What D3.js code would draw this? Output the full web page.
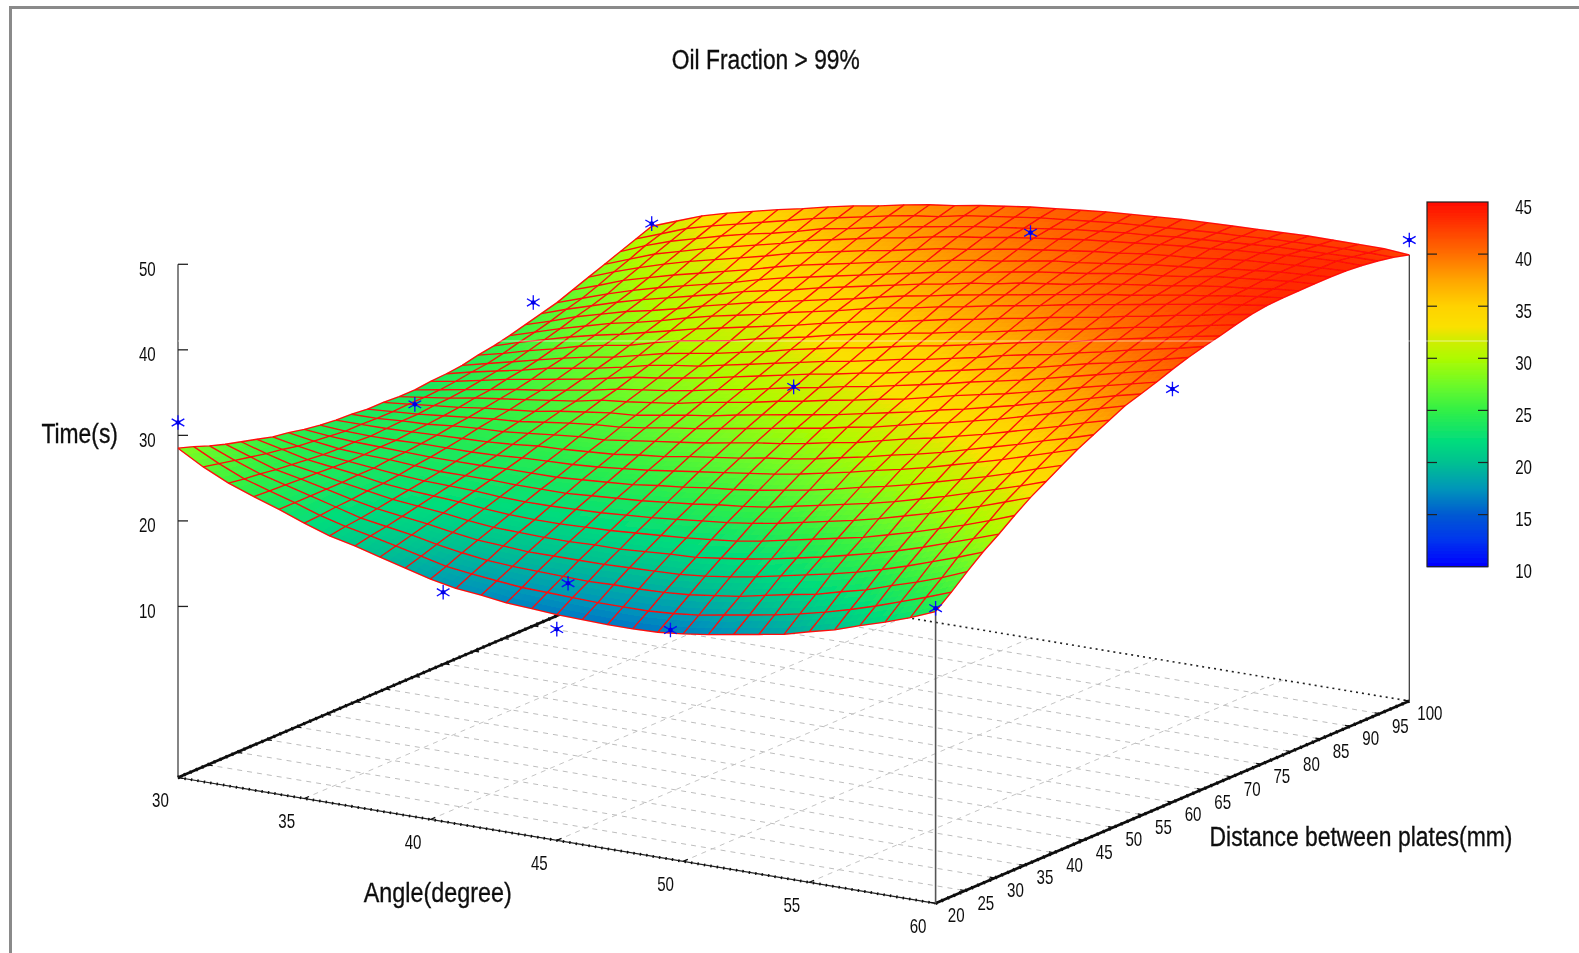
<!DOCTYPE html>
<html>
<head>
<meta charset="utf-8">
<title>Oil Fraction > 99%</title>
<script src="https://cdn.jsdelivr.net/npm/d3@7"></script>
<style>
    html, body { margin: 0; padding: 0; background: #fff; overflow: hidden; }
    text { font-family: "Liberation Sans", Arial, sans-serif; fill: #111; }
</style>
</head>
<body>
<script>
var angleTicks = [30, 35, 40, 45, 50, 55, 60];
var distTicks = [20, 25, 30, 35, 40, 45, 50, 55, 60, 65, 70, 75, 80, 85, 90, 95, 100];
var timeTicks = [10, 20, 30, 40, 50];
var barTicks = [10, 15, 20, 25, 30, 35, 40, 45];

// colorbar stops
var barValues = [10, 12.5, 15, 17.5, 20, 22, 25, 27.5, 30, 32, 33, 35, 37.5, 40, 42.5, 45];
var barColors = ["#0000ff", "#0034ee", "#005ad2", "#0096b9", "#00c191", "#00dc7d", "#32f046", "#6efa28",
    "#aefa00", "#d7eb00", "#fae100", "#ffd200", "#ffa500", "#ff6e00", "#ff3c00", "#ff0a00"];

// measured points (stars)
var pointAngle = [30, 30, 30, 30, 40.5, 45, 45, 49.5, 60, 60, 60, 45, 45];
var pointDist = [20, 100, 80, 60, 20, 21.9, 20, 20, 20, 60, 100, 100, 60];
var pointTime = [31.5, 31.1, 27.8, 21.8, 16.8, 19.5, 14.7, 16.8, 24.5, 38.3, 43.9, 37.4, 31.2];

// surface, 31 x 31: one row per distance (20 to 100), one column per angle (30 to 60)
var timeGrid = [
    [28.5, 26.8, 25.4, 24.3, 23.3, 22.2, 21.2, 20.5, 19.7, 18.9, 18.1, 17.5, 17.2, 16.8, 16.6, 16.4, 16.3, 16.2, 16.2, 16.3, 16.6, 17.0, 17.5, 18.0, 18.5, 19.3, 20.0, 21.0, 21.9, 22.9, 24.1],
    [27.9, 26.4, 25.1, 24.2, 23.3, 22.3, 21.5, 20.9, 20.2, 19.5, 18.8, 18.4, 18.1, 17.8, 17.7, 17.6, 17.5, 17.5, 17.5, 17.7, 18.0, 18.5, 19.0, 19.5, 20.1, 20.8, 21.6, 22.5, 23.5, 24.5, 25.6],
    [27.2, 26.0, 24.9, 24.1, 23.3, 22.5, 21.7, 21.2, 20.7, 20.1, 19.6, 19.2, 19.0, 18.9, 18.8, 18.7, 18.8, 18.8, 18.9, 19.1, 19.5, 19.9, 20.5, 21.1, 21.6, 22.4, 23.1, 24.1, 25.0, 26.0, 27.2],
    [26.6, 25.6, 24.6, 24.0, 23.3, 22.6, 22.0, 21.6, 21.2, 20.7, 20.3, 20.1, 19.9, 19.9, 19.9, 19.9, 20.0, 20.1, 20.2, 20.5, 20.9, 21.4, 22.0, 22.6, 23.2, 23.9, 24.7, 25.6, 26.6, 27.6, 28.7],
    [26.1, 25.2, 24.4, 23.9, 23.3, 22.8, 22.3, 22.0, 21.7, 21.3, 21.0, 20.9, 20.8, 20.8, 20.9, 20.9, 21.1, 21.3, 21.4, 21.8, 22.2, 22.7, 23.3, 23.9, 24.6, 25.3, 26.1, 27.0, 28.0, 29.0, 30.0],
    [25.6, 24.9, 24.2, 23.8, 23.4, 22.9, 22.6, 22.4, 22.2, 21.9, 21.7, 21.6, 21.6, 21.7, 21.8, 22.0, 22.2, 22.4, 22.7, 23.0, 23.5, 24.1, 24.7, 25.3, 25.9, 26.7, 27.5, 28.4, 29.3, 30.3, 31.4],
    [25.1, 24.5, 24.0, 23.7, 23.4, 23.1, 22.9, 22.8, 22.7, 22.5, 22.4, 22.4, 22.5, 22.6, 22.8, 23.0, 23.3, 23.6, 23.9, 24.3, 24.8, 25.4, 26.0, 26.6, 27.3, 28.1, 28.9, 29.8, 30.7, 31.7, 32.7],
    [24.8, 24.3, 23.9, 23.7, 23.6, 23.4, 23.2, 23.2, 23.2, 23.1, 23.1, 23.1, 23.3, 23.5, 23.7, 24.0, 24.3, 24.7, 25.0, 25.4, 26.0, 26.6, 27.2, 27.8, 28.5, 29.3, 30.1, 31.0, 31.9, 32.8, 33.8],
    [24.4, 24.1, 23.9, 23.8, 23.7, 23.6, 23.6, 23.6, 23.7, 23.7, 23.7, 23.9, 24.1, 24.3, 24.7, 25.0, 25.4, 25.7, 26.1, 26.6, 27.1, 27.7, 28.4, 29.0, 29.7, 30.5, 31.3, 32.1, 33.0, 34.0, 34.9],
    [24.1, 23.9, 23.8, 23.8, 23.9, 23.9, 23.9, 24.0, 24.2, 24.3, 24.4, 24.6, 24.9, 25.2, 25.6, 26.0, 26.4, 26.8, 27.2, 27.7, 28.3, 28.9, 29.6, 30.2, 30.9, 31.7, 32.5, 33.3, 34.2, 35.1, 36.0],
    [23.9, 23.9, 23.9, 24.0, 24.1, 24.2, 24.3, 24.5, 24.8, 24.9, 25.1, 25.3, 25.7, 26.0, 26.5, 26.9, 27.3, 27.8, 28.2, 28.7, 29.3, 29.9, 30.6, 31.2, 31.9, 32.7, 33.5, 34.3, 35.2, 36.0, 36.9],
    [23.8, 23.8, 24.0, 24.1, 24.4, 24.6, 24.7, 25.0, 25.3, 25.6, 25.7, 26.1, 26.5, 26.9, 27.3, 27.8, 28.3, 28.7, 29.2, 29.8, 30.3, 31.0, 31.7, 32.3, 33.0, 33.7, 34.5, 35.3, 36.1, 37.0, 37.8],
    [23.6, 23.8, 24.0, 24.3, 24.6, 24.9, 25.1, 25.5, 25.9, 26.2, 26.4, 26.8, 27.3, 27.7, 28.2, 28.7, 29.2, 29.7, 30.2, 30.8, 31.3, 32.0, 32.7, 33.3, 34.0, 34.7, 35.5, 36.3, 37.1, 37.9, 38.7],
    [23.6, 23.9, 24.2, 24.5, 24.9, 25.2, 25.5, 26.0, 26.4, 26.8, 27.0, 27.5, 28.0, 28.4, 29.0, 29.5, 30.0, 30.5, 31.0, 31.6, 32.2, 32.8, 33.5, 34.1, 34.8, 35.5, 36.3, 37.0, 37.8, 38.6, 39.3],
    [23.5, 23.9, 24.3, 24.8, 25.2, 25.6, 26.0, 26.4, 27.0, 27.3, 27.7, 28.1, 28.7, 29.2, 29.7, 30.3, 30.8, 31.4, 31.9, 32.5, 33.0, 33.7, 34.4, 35.0, 35.6, 36.3, 37.0, 37.8, 38.5, 39.2, 39.9],
    [23.5, 24.0, 24.5, 25.0, 25.5, 25.9, 26.4, 26.9, 27.5, 27.9, 28.3, 28.8, 29.4, 29.9, 30.5, 31.1, 31.6, 32.2, 32.7, 33.3, 33.9, 34.5, 35.2, 35.8, 36.4, 37.1, 37.8, 38.5, 39.2, 39.9, 40.6],
    [23.7, 24.2, 24.8, 25.4, 25.9, 26.4, 26.9, 27.5, 28.1, 28.5, 29.0, 29.5, 30.1, 30.7, 31.3, 31.9, 32.4, 33.0, 33.5, 34.1, 34.7, 35.3, 35.9, 36.5, 37.1, 37.8, 38.5, 39.1, 39.8, 40.5, 41.2],
    [23.8, 24.5, 25.1, 25.7, 26.4, 26.9, 27.4, 28.0, 28.7, 29.2, 29.6, 30.2, 30.8, 31.4, 32.0, 32.6, 33.1, 33.7, 34.3, 34.8, 35.4, 36.0, 36.7, 37.3, 37.8, 38.5, 39.1, 39.8, 40.4, 41.0, 41.7],
    [24.0, 24.7, 25.4, 26.1, 26.8, 27.4, 27.9, 28.6, 29.3, 29.8, 30.3, 30.9, 31.5, 32.2, 32.8, 33.4, 33.9, 34.5, 35.1, 35.6, 36.2, 36.8, 37.4, 38.0, 38.5, 39.2, 39.8, 40.4, 41.0, 41.6, 42.13],
    [24.4, 25.1, 25.9, 26.6, 27.4, 28.0, 28.5, 29.3, 30.0, 30.5, 31.0, 31.7, 32.3, 32.9, 33.6, 34.2, 34.7, 35.3, 35.8, 36.4, 36.9, 37.5, 38.1, 38.7, 39.2, 39.8, 40.4, 40.9, 41.5, 42.1, 42.64],
    [24.7, 25.6, 26.4, 27.2, 27.9, 28.5, 29.2, 29.9, 30.6, 31.2, 31.8, 32.4, 33.0, 33.7, 34.3, 34.9, 35.4, 36.0, 36.6, 37.1, 37.7, 38.2, 38.8, 39.3, 39.8, 40.4, 40.9, 41.5, 42.0, 42.6, 43.07],
    [25.1, 26.0, 26.9, 27.7, 28.5, 29.1, 29.8, 30.6, 31.3, 31.9, 32.5, 33.2, 33.8, 34.4, 35.1, 35.7, 36.2, 36.8, 37.3, 37.9, 38.4, 38.9, 39.5, 40.0, 40.5, 41.0, 41.5, 42.0, 42.5, 42.9, 43.34],
    [25.6, 26.5, 27.5, 28.3, 29.1, 29.7, 30.4, 31.2, 31.9, 32.6, 33.2, 33.8, 34.4, 35.0, 35.7, 36.3, 36.8, 37.4, 37.9, 38.4, 38.9, 39.4, 39.9, 40.4, 40.8, 41.3, 41.8, 42.2, 42.7, 43.1, 43.43],
    [26.1, 27.1, 28.0, 28.9, 29.7, 30.4, 31.1, 31.8, 32.6, 33.2, 33.8, 34.5, 35.1, 35.7, 36.3, 36.9, 37.4, 38.0, 38.4, 39.0, 39.4, 39.8, 40.4, 40.8, 41.2, 41.6, 42.1, 42.5, 42.8, 43.2, 43.46],
    [26.6, 27.6, 28.6, 29.5, 30.3, 31.0, 31.7, 32.4, 33.2, 33.9, 34.5, 35.1, 35.7, 36.3, 36.9, 37.5, 38.0, 38.5, 39.0, 39.5, 39.9, 40.3, 40.8, 41.2, 41.5, 41.9, 42.4, 42.7, 43.0, 43.3, 43.49],
    [27.3, 28.3, 29.4, 30.2, 31.0, 31.7, 32.4, 33.1, 33.9, 34.6, 35.2, 35.8, 36.4, 37.0, 37.5, 38.1, 38.6, 39.0, 39.5, 40.0, 40.3, 40.7, 41.1, 41.5, 41.8, 42.1, 42.5, 42.8, 43.1, 43.3, 43.51],
    [28.0, 29.1, 30.1, 31.0, 31.8, 32.5, 33.2, 33.9, 34.7, 35.3, 35.9, 36.5, 37.0, 37.6, 38.2, 38.6, 39.1, 39.6, 40.0, 40.4, 40.8, 41.1, 41.5, 41.8, 42.0, 42.4, 42.7, 42.9, 43.1, 43.3, 43.43],
    [28.7, 29.8, 30.9, 31.7, 32.5, 33.2, 33.9, 34.6, 35.4, 36.0, 36.6, 37.2, 37.7, 38.3, 38.8, 39.2, 39.7, 40.1, 40.5, 40.9, 41.2, 41.5, 41.8, 42.1, 42.3, 42.6, 42.8, 43.0, 43.2, 43.3, 43.28],
    [29.4, 30.6, 31.6, 32.4, 33.2, 33.9, 34.5, 35.2, 36.0, 36.5, 37.1, 37.7, 38.2, 38.7, 39.2, 39.6, 40.0, 40.4, 40.8, 41.1, 41.4, 41.6, 41.9, 42.1, 42.3, 42.5, 42.7, 42.8, 42.9, 43.0, 43.02],
    [30.1, 31.2, 32.3, 33.1, 33.8, 34.5, 35.2, 35.9, 36.5, 37.1, 37.7, 38.2, 38.6, 39.2, 39.6, 40.0, 40.4, 40.7, 41.0, 41.3, 41.5, 41.7, 41.9, 42.1, 42.2, 42.4, 42.5, 42.6, 42.7, 42.7, 42.65],
    [30.8, 31.9, 33.0, 33.8, 34.5, 35.2, 35.8, 36.5, 37.1, 37.6, 38.2, 38.7, 39.1, 39.6, 40.0, 40.4, 40.7, 41.0, 41.3, 41.5, 41.7, 41.9, 42.0, 42.1, 42.2, 42.3, 42.4, 42.4, 42.4, 42.4, 42.15]
];

var width = 1579, height = 953;

var svg = d3.select("body").append("svg")
    .attr("width", width)
    .attr("height", height);

// the original is an upscaled screenshot, so everything is a little soft
svg.append("defs").append("filter")
    .attr("id", "soft")
    .attr("filterUnits", "userSpaceOnUse")
    .attr("x", 0).attr("y", 0).attr("width", width).attr("height", height)
    .append("feGaussianBlur")
    .attr("stdDeviation", 0.4);

// image frame, left and top only
svg.append("path")
    .attr("d", "M10.5," + height + "V7.5H" + width)
    .attr("fill", "none")
    .attr("stroke", "#8a8a8a")
    .attr("stroke-width", 3);

// oblique projection of the three axes on the page
var originX = 178, originY = 777.5;
var angleX = d3.scaleLinear().domain([30, 60]).range([0, 757.6]);
var angleY = d3.scaleLinear().domain([30, 60]).range([0, 125.8]);
var distX = d3.scaleLinear().domain([20, 100]).range([0, 473.7]);
var distY = d3.scaleLinear().domain([20, 100]).range([0, -202.3]);
var timeY = d3.scaleLinear().domain([-10, 50]).range([0, -513.2]);
var floorZ = -10;

function px(a, d) {
    return originX + angleX(a) + distX(d);
}
function py(a, d, z) {
    return originY + angleY(a) + distY(d) + timeY(z);
}

var color = d3.scaleLinear().domain(barValues).range(barColors);

var gridAngle = d3.range(31).map(function (i) { return 30 + i; });
var gridDist = d3.range(31).map(function (j) { return 20 + j * 80 / 30; });

var chart = svg.append("g").attr("filter", "url(#soft)");

function floorLine(a1, d1, a2, d2) {
    return chart.append("line")
        .attr("x1", px(a1, d1)).attr("y1", py(a1, d1, floorZ))
        .attr("x2", px(a2, d2)).attr("y2", py(a2, d2, floorZ));
}

// dashed floor grid
distTicks.slice(1, -1).forEach(function (d) {
    floorLine(30, d, 60, d).attr("stroke", "#bdbdbd").attr("stroke-dasharray", "5 5");
});
angleTicks.slice(1, -1).forEach(function (a) {
    floorLine(a, 20, a, 100).attr("stroke", "#c4c4c4").attr("stroke-dasharray", "5 5");
});

// floor edges, the rough look comes from the tick overlay
floorLine(30, 100, 60, 100).attr("stroke", "#222").attr("stroke-width", 1.6).attr("stroke-dasharray", "2 4");
floorLine(30, 20, 60, 20).attr("stroke", "#222").attr("stroke-width", 1.2);
floorLine(30, 20, 60, 20).attr("stroke", "#111").attr("stroke-width", 2.8).attr("stroke-dasharray", "1.5 5");
floorLine(30, 20, 30, 100).attr("stroke", "#111").attr("stroke-width", 2.7);
floorLine(60, 20, 60, 100).attr("stroke", "#111").attr("stroke-width", 2.7);
floorLine(30, 20, 30, 100).attr("stroke", "#111").attr("stroke-width", 3.6).attr("stroke-dasharray", "1.5 5");
floorLine(60, 20, 60, 100).attr("stroke", "#111").attr("stroke-width", 3.6).attr("stroke-dasharray", "1.5 5");

// floor ticks
angleTicks.forEach(function (a) {
    floorLine(a, 20, a, 20.8).attr("stroke", "#111").attr("stroke-width", 1.2);
});
distTicks.forEach(function (d) {
    floorLine(30, d, 30.2, d).attr("stroke", "#111").attr("stroke-width", 1.2);
    floorLine(60, d, 59.8, d).attr("stroke", "#111").attr("stroke-width", 1.2);
});

// vertical axes
function upright(a, d, z, stroke, sw) {
    chart.append("line")
        .attr("x1", px(a, d)).attr("y1", py(a, d, floorZ))
        .attr("x2", px(a, d)).attr("y2", py(a, d, z))
        .attr("stroke", stroke)
        .attr("stroke-width", sw);
}
upright(30, 20, 50, "#222", 1.1);
upright(60, 20, timeGrid[0][30], "#555", 1.6);
upright(60, 100, timeGrid[30][30], "#333", 1.2);

timeTicks.forEach(function (t) {
    chart.append("line")
        .attr("x1", px(30, 20)).attr("x2", px(30, 20) + 10)
        .attr("y1", py(30, 20, t)).attr("y2", py(30, 20, t))
        .attr("stroke", "#222")
        .attr("stroke-width", 1.3);
});

// surface fill, each cell cut in small pieces to get the smooth shading
var pieces = 3;
var cells = [];
d3.range(30).forEach(function (j) {
    d3.range(30).forEach(function (i) {
        d3.range(pieces).forEach(function (m) {
            d3.range(pieces).forEach(function (n) {
                cells.push({ i: i, j: j, u0: n / pieces, u1: (n + 1) / pieces, v0: m / pieces, v1: (m + 1) / pieces });
            });
        });
    });
});

function cellPoint(c, u, v) {
    var a = gridAngle[c.i] + u * (gridAngle[c.i + 1] - gridAngle[c.i]);
    var d = gridDist[c.j] + v * (gridDist[c.j + 1] - gridDist[c.j]);
    var z = (1 - v) * ((1 - u) * timeGrid[c.j][c.i] + u * timeGrid[c.j][c.i + 1]) +
        v * ((1 - u) * timeGrid[c.j + 1][c.i] + u * timeGrid[c.j + 1][c.i + 1]);
    return [px(a, d), py(a, d, z), z];
}

chart.append("g").selectAll("path")
    .data(cells)
    .join("path")
    .attr("shape-rendering", "crispEdges")
    .attr("d", function (c) {
        return "M" + [
            cellPoint(c, c.u0, c.v0),
            cellPoint(c, c.u1, c.v0),
            cellPoint(c, c.u1, c.v1),
            cellPoint(c, c.u0, c.v1)
        ].map(function (p) { return p[0] + "," + p[1]; }).join("L") + "Z";
    })
    .attr("fill", function (c) {
        return color(cellPoint(c, (c.u0 + c.u1) / 2, (c.v0 + c.v1) / 2)[2]);
    });

// red mesh
var line = d3.line();
var meshRows = timeGrid.map(function (row, j) {
    return row.map(function (z, i) {
        return [px(gridAngle[i], gridDist[j]), py(gridAngle[i], gridDist[j], z)];
    });
});
var meshCols = d3.range(31).map(function (i) {
    return meshRows.map(function (row) { return row[i]; });
});

chart.append("g").selectAll("path")
    .data(meshRows.concat(meshCols))
    .join("path")
    .attr("d", line)
    .attr("fill", "none")
    .attr("stroke", "#ff0a08")
    .attr("stroke-width", 1.35);

// measured points
var star = d3.symbol().type(d3.symbolAsterisk).size(150);
pointTime.forEach(function (t, k) {
    var g = chart.append("g")
        .attr("transform", "translate(" + px(pointAngle[k], pointDist[k]) + "," + py(pointAngle[k], pointDist[k], t) + ")");
    g.append("path").attr("d", star()).attr("fill", "none").attr("stroke", "#0808ff").attr("stroke-width", 1.3);
    g.append("circle").attr("r", 2.3).attr("fill", "#0000e6");
});

// colorbar
var barTop = 202, barBottom = 566.7, barLeft = 1427, barRight = 1488;
var barY = d3.scaleLinear().domain([10, 45]).range([barBottom, barTop]);

chart.append("g").selectAll("rect")
    .data(d3.range(barTop, barBottom, 1))
    .join("rect")
    .attr("x", barLeft)
    .attr("y", function (d) { return d; })
    .attr("width", barRight - barLeft)
    .attr("height", 1.2)
    .attr("fill", function (d) { return color(barY.invert(d + 0.5)); });

chart.append("rect")
    .attr("x", barLeft).attr("y", barTop)
    .attr("width", barRight - barLeft).attr("height", barBottom - barTop)
    .attr("fill", "none")
    .attr("stroke", "#222")
    .attr("stroke-width", 1.2);

barTicks.slice(1, -1).forEach(function (t) {
    [[barLeft, barLeft + 10], [barRight - 10, barRight]].forEach(function (s) {
        chart.append("line")
            .attr("x1", s[0]).attr("x2", s[1])
            .attr("y1", barY(t)).attr("y2", barY(t))
            .attr("stroke", "#222")
            .attr("stroke-width", 1.2);
    });
});

// the pale scan line that runs over the picture
chart.append("line")
    .attr("x1", 178).attr("x2", barRight)
    .attr("y1", 341).attr("y2", 341)
    .attr("stroke", "#fff")
    .attr("stroke-opacity", 0.55)
    .attr("stroke-width", 1);

// text, narrowed with textLength like the squeezed original
var labels = svg.append("g").attr("filter", "url(#soft)");

function label(str, x, y, size, anchor, len, heavy) {
    labels.append("text")
        .attr("x", x).attr("y", y)
        .attr("font-size", size)
        .attr("text-anchor", anchor)
        .attr("textLength", len)
        .attr("lengthAdjust", "spacingAndGlyphs")
        .attr("stroke", heavy ? "#111" : "none")
        .attr("stroke-width", heavy ? 0.35 : 0)
        .text(str);
}
function tickLen(t) {
    return String(t).length * 8.4;
}

timeTicks.forEach(function (t) {
    label(t, 155.7, py(30, 20, t) + 11.5, 21, "end", tickLen(t));
});
angleTicks.forEach(function (a) {
    label(a, px(a, 20) - 17.5, py(a, 20, floorZ) + 29.7, 21, "middle", tickLen(a));
});
distTicks.forEach(function (d) {
    label(d, px(60, d) + 20.6, py(60, d, floorZ) + 19, 21, "middle", tickLen(d));
});
barTicks.forEach(function (t) {
    label(t, 1532, barY(t) + 11.5, 21, "end", tickLen(t));
});

label("Oil Fraction > 99%", 765.8, 69, 27, "middle", 188, true);
label("Time(s)", 79.7, 443, 27, "middle", 76.5, true);
label("Angle(degree)", 437.8, 901.7, 27, "middle", 148, true);
label("Distance between plates(mm)", 1361, 846, 27, "middle", 303, true);
</script>
</body>
</html>
